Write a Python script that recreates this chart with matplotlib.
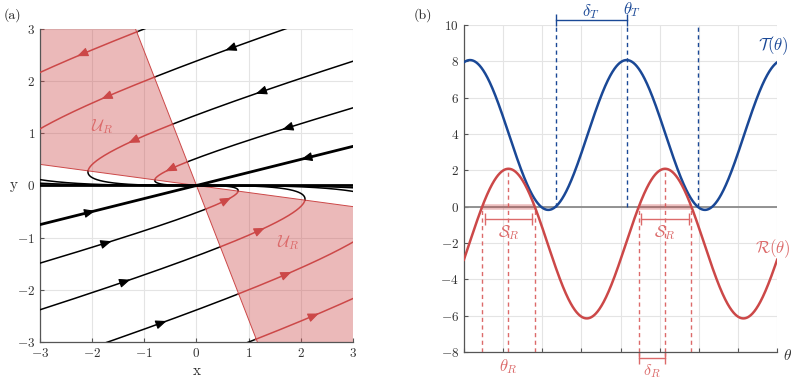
import numpy as np
import matplotlib
matplotlib.use('Agg')
import matplotlib.pyplot as plt

plt.rcParams['font.family'] = ['cmr10', 'DejaVu Serif']
plt.rcParams['mathtext.fontset'] = 'cm'
plt.rcParams['axes.unicode_minus'] = False
plt.rcParams['axes.formatter.use_mathtext'] = True

# ---- date panou (a): sistem liniar, nod stabil ----
fast_slope = 0.25          # vectorul propriu rapid (1, 0.25); cel lent e (1, 0)
rate_ratio = 1.0 / 3.0     # lambda_lent / lambda_rapid
traj_C = [-5.68, -4.5, -3.08, -1.63, 0.0]   # constante pentru fiecare traiectorie
wedge_steep = -2.57        # panta marginilor regiunii U_R
wedge_shallow = -0.135
arrow_black = [(0.64, 2.63), (1.22, 1.83), (1.73, 1.13), (2.11, 0.52),
               (-2.04, -0.51), (-1.72, -1.10), (-1.37, -1.84), (-0.67, -2.63)]
arrow_red = [(-2.20, 2.53), (-1.72, 1.69), (-1.22, 0.87), (-0.51, 0.33),
             (0.58, -0.29), (1.22, -0.85), (1.73, -1.70), (2.24, -2.48)]
ticks_a = [-3, -2, -1, 0, 1, 2, 3]

# ---- date panou (b) ----
T_mean, T_amp, theta_T = 3.95, 4.125, 3.264
R_mean, R_amp, theta_R = -2.03, 4.12, 0.894
ticks_b_y = [-8, -6, -4, -2, 0, 2, 4, 6, 8, 10]
n_theta_ticks = 9

RED = '#cc4848'
RED_L = '#dc6a6a'
BLUE = '#1a4896'
GRID = '#e4e4e4'

fig = plt.figure(figsize=(7.93, 3.81), dpi=100)
ax1 = fig.add_axes([0.0504, 0.1024, 0.3947, 0.8215])
ax2 = fig.add_axes([0.585, 0.0761, 0.395, 0.858])


def style(ax):
    ax.set_axisbelow(True)
    ax.grid(True, color=GRID, lw=0.8)
    for k in ['top', 'right']:
        ax.spines[k].set_visible(False)
    for k in ['left', 'bottom']:
        ax.spines[k].set_color('#555555')
        ax.spines[k].set_linewidth(0.9)
    ax.tick_params(direction='in', length=3, width=0.8, color='#555555',
                   labelcolor='#333333', labelsize=9.5)


# ================= panou (a) =================
style(ax1)
ax1.set_xlim(-3, 3)
ax1.set_ylim(-3, 3)
ax1.set_xticks(ticks_a)
ax1.set_yticks(ticks_a)

# regiunea U_R
xt = 3 / wedge_steep
ax1.fill([0, -3, -3, xt], [0, -3 * wedge_shallow, 3, 3], color=RED, alpha=0.38, lw=0, zorder=1)
ax1.fill([0, -xt, 3, 3], [0, -3, -3, 3 * wedge_shallow], color=RED, alpha=0.38, lw=0, zorder=1)
xx = np.array([-3.0, 3.0])
ax1.plot(xx, wedge_shallow * xx, color=RED, lw=0.7, zorder=2)
ax1.plot(-xx / wedge_steep, -xx, color=RED, lw=0.7, zorder=2)

# traiectorii
paths = []
for C in traj_C:
    for sgn in (1, -1):
        u = sgn * np.geomspace(40, 1e-7, 8000)
        w = sgn * C * np.abs(u) ** rate_ratio
        x = u + w
        y = fast_slope * u
        lw = 2.0 if C == 0 else 1.1
        inside = (y - wedge_shallow * x) * (y - wedge_steep * x) < 0
        grow = inside | np.roll(inside, 1) | np.roll(inside, -1)
        ax1.plot(np.where(~inside, x, np.nan), np.where(~inside, y, np.nan), color='black', lw=lw, zorder=3)
        ax1.plot(np.where(grow, x, np.nan), np.where(grow, y, np.nan), color=RED, lw=lw, zorder=3)
        paths.append(np.column_stack([x, y]))
ax1.axhline(0, color='black', lw=2.0, zorder=3)


def put_arrow(ax, p, color):
    best = None
    for P in paths:
        d = np.hypot(P[:, 0] - p[0], P[:, 1] - p[1])
        i = np.argmin(d)
        if best is None or d[i] < best[0]:
            best = (d[i], P, i)
    _, P, i = best
    t = P[min(i + 3, len(P) - 1)] - P[max(i - 3, 0)]
    t = t / np.hypot(*t)
    tip = P[i] + 0.1 * t
    tail = P[i] - 0.05 * t
    ax.annotate('', xy=tip, xytext=tail, zorder=4,
                arrowprops=dict(arrowstyle='-|>,head_length=0.6,head_width=0.25',
                                color=color, lw=0.8,
                                mutation_scale=11, shrinkA=0, shrinkB=0))


for p in arrow_black:
    put_arrow(ax1, p, 'black')
for p in arrow_red:
    put_arrow(ax1, p, RED)

ax1.text(-1.8, 1.12, r'$\mathcal{U}_R$', color=RED_L, fontsize=12, ha='center', va='center')
ax1.text(1.75, -1.1, r'$\mathcal{U}_R$', color=RED_L, fontsize=12, ha='center', va='center')
ax1.set_xlabel('x', fontsize=11, color='#333333', labelpad=3)
ax1.set_ylabel('y', fontsize=11, color='#333333', rotation=0, va='center', labelpad=2)

# ================= panou (b) =================
style(ax2)
ax2.set_xlim(0, 2 * np.pi)
ax2.set_ylim(-8, 10)
ax2.set_xticks(np.linspace(0, 2 * np.pi, n_theta_ticks))
ax2.set_xticklabels([])
ax2.set_yticks(ticks_b_y)

theta = np.linspace(0, 2 * np.pi, 1200)
T = T_mean + T_amp * np.cos(2 * (theta - theta_T))
R = R_mean + R_amp * np.cos(2 * (theta - theta_R))
delta_T = np.arccos(-T_mean / T_amp) / 2
delta_R = np.arccos(-R_mean / R_amp) / 2

ax2.axhline(0, color='#8a8a8a', lw=1.3, zorder=2)

# linii verticale punctate
for th in [theta_T - delta_T, theta_T, theta_T + delta_T]:
    ax2.plot([th, th], [0, 10], color=BLUE, lw=1.0, ls=(0, (3, 2.5)), zorder=2)
peaks_R = [theta_R, theta_R + np.pi]
for k, pk in enumerate(peaks_R):
    for th in [pk - delta_R, pk + delta_R]:
        ax2.plot([th, th], [-8, 0], color=RED_L, lw=1.0, ls=(0, (3, 2.5)), zorder=2)
    ax2.plot([pk, pk], [-8, R_mean + R_amp], color=RED_L, lw=1.0, ls=(0, (3, 2.5)), zorder=2)
    # banda S_R pe axa zero
    ax2.plot([pk - delta_R, pk + delta_R], [0, 0], color=RED, lw=4, alpha=0.35,
             solid_capstyle='butt', zorder=2)
    ax2.plot([pk - delta_R + 0.05, pk + delta_R - 0.05], [-0.66, -0.66], color=RED_L, lw=1.0,
             marker='|', markersize=8, mew=1.0, zorder=3)
    ax2.text(pk, -1.45, r'$\mathcal{S}_R$', color=RED_L, fontsize=12, ha='center', va='center')

# delta_R sub axa
pk = peaks_R[1]
for th in [pk - delta_R, pk]:
    ax2.plot([th, th], [-8, -8.4], color=RED_L, lw=1.0, ls=(0, (3, 2.5)), clip_on=False)
ax2.plot([pk - delta_R, pk], [-8.32, -8.32], color=RED_L, lw=1.0, marker='|',
         markersize=8, mew=1.0, clip_on=False)
ax2.text(pk - delta_R / 2, -9.05, r'$\delta_R$', color=RED_L, fontsize=11.5, ha='center', va='center')
ax2.text(theta_R, -8.8, r'$\theta_R$', color=RED_L, fontsize=12, ha='center', va='center')

# delta_T deasupra
ax2.plot([theta_T - delta_T, theta_T], [10.29, 10.29], color=BLUE, lw=1.0, marker='|',
         markersize=8, mew=1.0, clip_on=False)
ax2.text(theta_T - delta_T / 2, 10.75, r'$\delta_T$', color=BLUE, fontsize=12, ha='center', va='center')
ax2.text(theta_T + 0.1, 10.85, r'$\theta_T$', color=BLUE, fontsize=12, ha='center', va='center')

ax2.plot(theta, T, color=BLUE, lw=1.8, zorder=4)
ax2.plot(theta, R, color=RED, lw=1.8, zorder=4)

ax2.text(6.2, 8.85, r'$\mathcal{T}(\theta)$', color=BLUE, fontsize=12, ha='center', va='center')
ax2.text(6.2, -2.3, r'$\mathcal{R}(\theta)$', color=RED_L, fontsize=12, ha='center', va='center')
ax2.text(2 * np.pi + 0.2, -8.2, r'$\theta$', color='#333333', fontsize=11, ha='center', va='center')

fig.text(0.004, 0.952, '(a)', fontsize=10, color='#222222')
fig.text(0.521, 0.952, '(b)', fontsize=10, color='#222222')

fig.savefig('out.png', dpi=100)
